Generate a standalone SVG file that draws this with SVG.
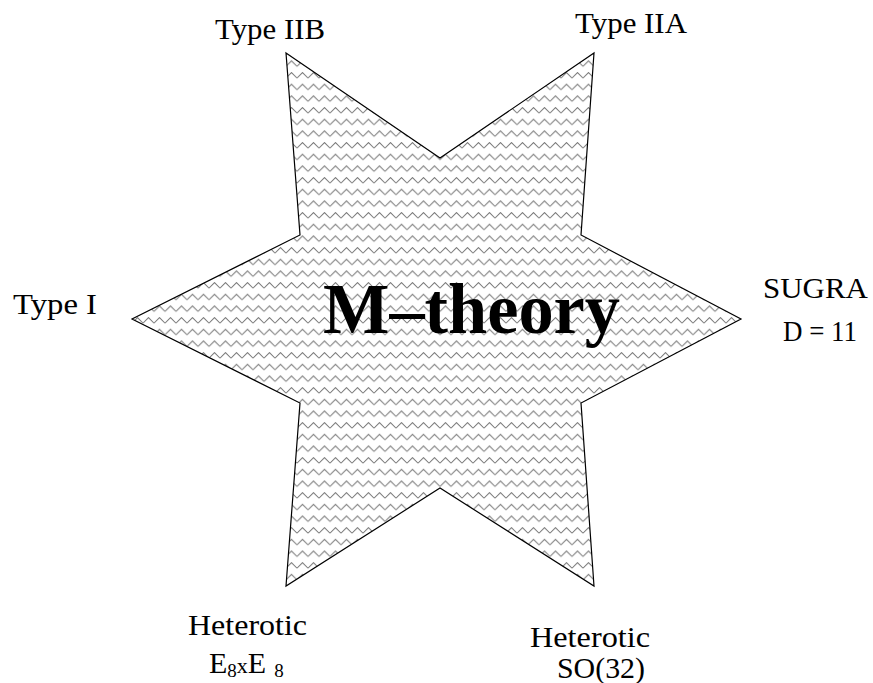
<svg xmlns="http://www.w3.org/2000/svg" width="873" height="683" viewBox="0 0 873 683">
  <style>
    .lbl { font-family: "Liberation Serif", "Times New Roman", serif; font-size: 30px; fill: #000; }
    .sub { font-family: "Liberation Serif", "Times New Roman", serif; font-size: 19px; fill: #000; }
    .title { font-family: "Liberation Serif", "Times New Roman", serif; font-size: 71px; font-weight: bold; fill: #000; }
  </style>
  <defs>
    <pattern id="zig" patternUnits="userSpaceOnUse" x="0" y="2" width="11" height="11.67">
      <path d="M0,6 L5.5,0.5 L11,6" fill="none" stroke="#7a7a7a" stroke-width="1"/>
    </pattern>
  </defs>
  <rect width="873" height="683" fill="#fff"/>
  <g id="star">
    <polygon points="286,53 440,158 594,53 581,235 741,319 581,403 594,586 440,488 286,586 300,403 132,319 300,235" fill="url(#zig)" stroke="#000" stroke-width="1.2" stroke-linejoin="miter"/>
    <text class="title" x="323" y="333" textLength="297" lengthAdjust="spacingAndGlyphs">M–theory</text>
  </g>
  <g id="typeIIB">
    <text class="lbl" x="215" y="39" textLength="110" lengthAdjust="spacingAndGlyphs">Type IIB</text>
  </g>
  <g id="typeIIA">
    <text class="lbl" x="575" y="33" textLength="112" lengthAdjust="spacingAndGlyphs">Type IIA</text>
  </g>
  <g id="typeI">
    <text class="lbl" x="13" y="314" textLength="84" lengthAdjust="spacingAndGlyphs">Type I</text>
  </g>
  <g id="sugra">
    <text class="lbl" x="763" y="298" textLength="105" lengthAdjust="spacingAndGlyphs">SUGRA</text>
    <text class="lbl" x="783" y="341" font-size="28" textLength="74" lengthAdjust="spacingAndGlyphs">D = 11</text>
  </g>
  <g id="heteroticE8">
    <text class="lbl" x="188" y="635" textLength="119" lengthAdjust="spacingAndGlyphs">Heterotic</text>
    <text class="lbl" x="209" y="673">E<tspan class="sub" dy="4">8</tspan><tspan font-size="22" dy="-4">x</tspan>E<tspan class="sub" dx="8" dy="4">8</tspan></text>
  </g>
  <g id="heteroticSO32">
    <text class="lbl" x="530" y="647" textLength="120" lengthAdjust="spacingAndGlyphs">Heterotic</text>
    <text class="lbl" x="557" y="678" font-size="27" textLength="88" lengthAdjust="spacingAndGlyphs">SO(32)</text>
  </g>
</svg>
